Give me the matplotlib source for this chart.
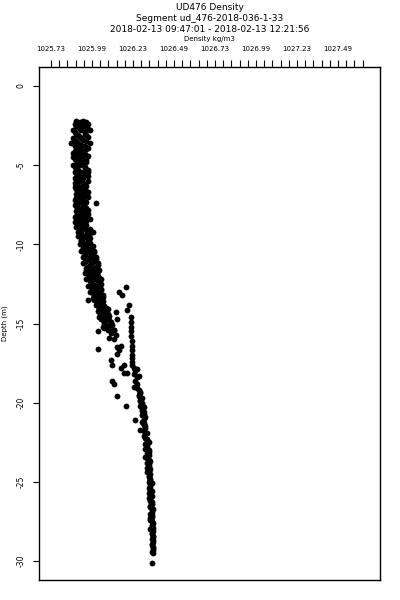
import matplotlib
matplotlib.use("Agg")
import matplotlib.pyplot as plt
import numpy as np

title_lines = ["UD476 Density", "Segment ud_476-2018-036-1-33",
               "2018-02-13 09:47:01 - 2018-02-13 12:21:56"]
x_label = "Density kg/m3"
y_label = "Depth (m)"

# top layer (-2.2 .. -10 m)
depth_top = [-2.2, -2.2, -2.4, -2.4, -2.4, -2.6, -2.6, -2.8, -2.8, -2.8,
             -3.0, -3.0, -3.2, -3.2, -3.4, -3.4, -3.6, -3.6, -3.6, -3.8, -3.8,
             -4.0, -4.0, -4.2, -4.2, -4.4, -4.4, -4.6, -4.6, -4.8, -4.8,
             -5.0, -5.0, -5.2, -5.2, -5.4, -5.4, -5.4, -5.6, -5.6, -5.8, -5.8,
             -6.0, -6.0, -6.2, -6.2, -6.4, -6.4, -6.6, -6.6, -6.8, -6.8,
             -7.0, -7.0, -7.2, -7.2, -7.4, -7.4, -7.4, -7.6, -7.6, -7.8, -7.8,
             -8.0, -8.0, -8.2, -8.2, -8.4, -8.4, -8.6, -8.6, -8.8, -8.8,
             -9.0, -9.0, -9.2, -9.2, -9.2, -9.4, -9.4, -9.6, -9.6, -9.8, -9.8,
             -10.0, -10.0]
dens_top = [1025.89, 1025.93, 1025.88, 1025.91, 1025.96, 1025.90, 1025.95, 1025.87, 1025.92, 1025.97,
            1025.89, 1025.94, 1025.91, 1025.96, 1025.88, 1025.93, 1025.86, 1025.90, 1025.97, 1025.88, 1025.94,
            1025.90, 1025.95, 1025.87, 1025.92, 1025.89, 1025.96, 1025.88, 1025.93, 1025.90, 1025.95,
            1025.87, 1025.91, 1025.89, 1025.94, 1025.88, 1025.92, 1025.96, 1025.90, 1025.94, 1025.88, 1025.93,
            1025.91, 1025.96, 1025.89, 1025.94, 1025.88, 1025.92, 1025.90, 1025.95, 1025.89, 1025.93,
            1025.91, 1025.96, 1025.88, 1025.92, 1025.90, 1025.94, 1026.01, 1025.89, 1025.93, 1025.91, 1025.96,
            1025.90, 1025.94, 1025.89, 1025.95, 1025.91, 1025.97, 1025.88, 1025.93, 1025.90, 1025.95,
            1025.92, 1025.97, 1025.90, 1025.96, 1025.99, 1025.91, 1025.95, 1025.93, 1025.97, 1025.92, 1025.96,
            1025.91, 1025.95]
depth_top2 = [-2.3, -2.3, -2.5, -2.5, -2.7, -2.7, -2.9, -2.9, -3.1, -3.1, -3.3, -3.3,
              -3.5, -3.5, -3.7, -3.7, -3.9, -3.9, -4.1, -4.1, -4.3, -4.3, -4.5, -4.5,
              -4.7, -4.7, -4.9, -4.9, -5.1, -5.1, -5.3, -5.3, -5.5, -5.5, -5.7, -5.7,
              -5.9, -5.9, -6.1, -6.1, -6.3, -6.3, -6.5, -6.5, -6.7, -6.7, -6.9, -6.9,
              -7.1, -7.1, -7.3, -7.3, -7.5, -7.5, -7.7, -7.7, -7.9, -7.9, -8.1, -8.1,
              -8.3, -8.3, -8.5, -8.5, -8.7, -8.7, -8.9, -8.9, -9.1, -9.1, -9.3, -9.3,
              -9.5, -9.5, -9.7, -9.7, -9.9, -9.9]
dens_top2 = [1025.91, 1025.95, 1025.89, 1025.93, 1025.91, 1025.96, 1025.88, 1025.94, 1025.90, 1025.95,
             1025.87, 1025.92, 1025.89, 1025.95, 1025.88, 1025.92, 1025.91, 1025.96, 1025.88, 1025.93,
             1025.90, 1025.94, 1025.87, 1025.92, 1025.91, 1025.95, 1025.89, 1025.93, 1025.88, 1025.94,
             1025.90, 1025.96, 1025.89, 1025.94, 1025.91, 1025.96, 1025.89, 1025.92, 1025.88, 1025.93,
             1025.90, 1025.95, 1025.89, 1025.93, 1025.91, 1025.96, 1025.90, 1025.94, 1025.89, 1025.93,
             1025.91, 1025.95, 1025.88, 1025.93, 1025.90, 1025.95, 1025.89, 1025.93, 1025.91, 1025.96,
             1025.88, 1025.93, 1025.90, 1025.95, 1025.91, 1025.94, 1025.89, 1025.93, 1025.91, 1025.95,
             1025.92, 1025.97, 1025.90, 1025.94, 1025.92, 1025.96, 1025.93, 1025.97]

# transition layer (-10 .. -20 m)
depth_mid = [-10.2, -10.2, -10.4, -10.4, -10.4, -10.6, -10.6, -10.8, -10.8, -10.8,
             -11.0, -11.0, -11.2, -11.2, -11.2, -11.4, -11.4, -11.6, -11.6, -11.6,
             -11.8, -11.8, -12.0, -12.0, -12.2, -12.2, -12.2, -12.4, -12.4, -12.6, -12.6,
             -12.8, -12.8, -13.0, -13.0, -13.2, -13.2, -13.4, -13.4, -13.5, -13.6, -13.6,
             -12.7, -13.0, -13.2,
             -13.8, -13.8, -14.0, -14.0, -14.2, -14.2, -14.4, -14.4, -14.6, -14.6,
             -14.3, -14.7, -14.8, -14.8, -15.0, -15.0, -15.2, -15.2, -15.4, -15.4,
             -15.5, -16.6,
             -13.8, -14.15, -14.6, -14.9, -15.2, -15.5, -15.8, -16.1, -16.4, -16.7, -17.0, -17.2,
             -15.0, -15.3, -15.6, -15.9, -15.4, -15.7, -16.0, -16.5, -16.9, -16.4, -16.7,
             -17.3, -17.6, -17.8, -17.6, -18.1, -18.1, -18.6, -18.8, -19.6, -20.2,
             -17.4, -17.6, -17.8, -18.0, -18.2, -18.4, -18.6, -17.9, -18.3, -18.8]
dens_mid = [1025.93, 1025.98, 1025.92, 1025.96, 1026.00, 1025.94, 1025.99, 1025.93, 1025.97, 1026.01,
            1025.95, 1026.00, 1025.93, 1025.98, 1026.02, 1025.96, 1026.01, 1025.95, 1025.99, 1026.03,
            1025.94, 1025.98, 1025.97, 1026.02, 1025.95, 1026.00, 1026.04, 1025.98, 1026.03, 1025.96, 1026.01,
            1025.99, 1026.04, 1025.97, 1026.02, 1026.00, 1026.05, 1025.99, 1026.03, 1025.96, 1026.02, 1026.05,
            1026.19, 1026.15, 1026.17,
            1026.01, 1026.05, 1026.03, 1026.07, 1026.02, 1026.06, 1026.04, 1026.08, 1026.03, 1026.07,
            1026.13, 1026.14, 1026.05, 1026.09, 1026.06, 1026.10, 1026.05, 1026.09, 1026.08, 1026.12,
            1026.02, 1026.02,
            1026.21, 1026.20, 1026.22, 1026.22, 1026.22, 1026.22, 1026.22, 1026.23, 1026.23, 1026.23, 1026.23, 1026.23,
            1026.10, 1026.09, 1026.10, 1026.09, 1026.12, 1026.13, 1026.12, 1026.14, 1026.14, 1026.16, 1026.15,
            1026.10, 1026.11, 1026.16, 1026.18, 1026.18, 1026.20, 1026.11, 1026.12, 1026.14, 1026.19,
            1026.23, 1026.23, 1026.24, 1026.25, 1026.24, 1026.26, 1026.25, 1026.26, 1026.27, 1026.26]
depth_mid2 = [-10.1, -10.1, -10.3, -10.3, -10.5, -10.5, -10.7, -10.7, -10.9, -10.9,
              -11.1, -11.1, -11.3, -11.3, -11.5, -11.5, -11.7, -11.7, -11.9, -11.9,
              -12.1, -12.1, -12.3, -12.3, -12.5, -12.5, -12.7, -12.7, -12.9, -12.9,
              -13.1, -13.1, -13.3, -13.3, -13.5, -13.7, -13.9, -13.9, -14.1, -14.1,
              -14.3, -14.3, -14.5, -14.5, -14.7, -14.7, -14.9, -14.9, -15.1, -15.1, -15.3]
dens_mid2 = [1025.95, 1025.99, 1025.93, 1025.97, 1025.95, 1026.00, 1025.94, 1025.98, 1025.96, 1026.01,
             1025.94, 1025.99, 1025.97, 1026.02, 1025.95, 1026.00, 1025.97, 1026.02, 1025.96, 1026.00,
             1025.98, 1026.03, 1025.97, 1026.02, 1025.99, 1026.04, 1025.98, 1026.02, 1026.00, 1026.04,
             1025.99, 1026.03, 1026.01, 1026.05, 1026.00, 1026.03, 1026.02, 1026.06, 1026.04, 1026.08,
             1026.03, 1026.07, 1026.05, 1026.09, 1026.04, 1026.08, 1026.06, 1026.10, 1026.07, 1026.11, 1026.06]

# deep layer (-19 .. -30.2 m)
depth_deep = [-19.0, -19.2, -19.4, -19.6, -19.8, -20.0, -20.2, -20.4, -20.6, -20.8,
              -21.0, -21.1, -21.2, -21.4, -21.6, -21.7, -21.8, -22.0,
              -22.2, -22.4, -22.6, -22.8, -23.0, -23.2, -23.4, -23.6, -23.8, -24.0,
              -24.2, -24.4, -24.6, -24.8, -25.0, -25.2, -25.4, -25.6, -25.8, -26.0,
              -26.2, -26.4, -26.6, -26.8, -27.0, -27.2, -27.4, -27.6, -27.8, -28.0,
              -28.2, -28.4, -28.6, -28.8, -29.0, -29.2, -29.4, -29.5, -30.15]
dens_deep = [1026.24, 1026.27, 1026.28, 1026.27, 1026.28, 1026.29, 1026.28, 1026.29, 1026.30, 1026.29,
             1026.30, 1026.25, 1026.29, 1026.30, 1026.31, 1026.28, 1026.30, 1026.31,
             1026.31, 1026.32, 1026.31, 1026.32, 1026.33, 1026.32, 1026.31, 1026.33, 1026.32, 1026.33,
             1026.34, 1026.32, 1026.33, 1026.34, 1026.33, 1026.34, 1026.33, 1026.35, 1026.34, 1026.33,
             1026.34, 1026.35, 1026.34, 1026.35, 1026.34, 1026.35, 1026.34, 1026.36, 1026.35, 1026.34,
             1026.35, 1026.36, 1026.35, 1026.36, 1026.35, 1026.36, 1026.35, 1026.36, 1026.353]
depth_deep2 = [-19.1, -19.3, -19.5, -19.7, -19.9, -20.1, -20.3, -20.5, -20.7, -20.9,
               -21.3, -21.5, -21.9, -22.1, -22.3, -22.5, -22.7, -22.9, -23.1, -23.3,
               -23.5, -23.7, -23.9, -24.1, -24.3, -24.5, -24.7, -24.9, -25.1, -25.3,
               -25.5, -25.7, -25.9, -26.1, -26.3, -26.5, -26.7, -26.9, -27.1, -27.3,
               -27.5, -27.7, -27.9, -28.1, -28.3, -28.5, -28.7, -28.9, -29.1, -29.3]
dens_deep2 = [1026.26, 1026.28, 1026.27, 1026.29, 1026.28, 1026.29, 1026.30, 1026.29, 1026.30, 1026.31,
              1026.30, 1026.31, 1026.32, 1026.30, 1026.32, 1026.33, 1026.32, 1026.31, 1026.33, 1026.33,
              1026.32, 1026.34, 1026.33, 1026.32, 1026.33, 1026.34, 1026.33, 1026.34, 1026.35, 1026.34,
              1026.34, 1026.33, 1026.35, 1026.34, 1026.35, 1026.34, 1026.36, 1026.35, 1026.35, 1026.34,
              1026.35, 1026.35, 1026.36, 1026.36, 1026.35, 1026.36, 1026.36, 1026.35, 1026.36, 1026.36]

x_tick_labels = ["1025.73", "1025.99", "1026.23", "1026.49", "1026.73", "1026.99", "1027.23", "1027.49"]
x_tick_start = 1025.735
x_tick_step = 0.25
y_ticks = [0, -5, -10, -15, -20, -25, -30]

depth = depth_top + depth_top2 + depth_mid + depth_mid2 + depth_deep + depth_deep2
dens = dens_top + dens_top2 + dens_mid + dens_mid2 + dens_deep + dens_deep2

fig = plt.figure(figsize=(4, 6), dpi=100)
ax = fig.add_axes([39/400, 1-580/600, (380-39)/400, (580-67)/600])
ax.plot(dens, depth, linestyle="none", marker="o", markersize=4.2,
        color="black", markeredgewidth=0)

ax.set_xlim(1025.662, 1027.741)
ax.set_ylim(-31.2, 1.2)

ax.xaxis.tick_top()
ax.xaxis.set_label_position("top")
major = [x_tick_start + i * x_tick_step for i in range(len(x_tick_labels))]
ax.set_xticks(major)
ax.set_xticklabels(x_tick_labels, fontsize=5)
minor = [x_tick_start + k * 0.05 for k in range(39)]
ax.set_xticks(minor, minor=True)
ax.tick_params(axis="x", which="both", direction="out", length=5, width=0.8,
               top=True, bottom=False, pad=6)
ax.set_yticks(y_ticks)
ax.set_yticklabels([str(v) for v in y_ticks], fontsize=5.5, rotation=90, va="center")
ax.tick_params(axis="y", which="both", direction="out", length=4.5, width=0.8, pad=5)
for s in ax.spines.values():
    s.set_linewidth(1.0)

ax.set_ylabel(y_label, fontsize=5)
ax.yaxis.set_label_coords(-0.09, 0.5)
fig.text(209.5/400, 1-39/600, x_label, fontsize=5, ha="center", va="center")
for txt, yy in zip(title_lines, [8, 18.5, 29.5]):
    fig.text(209.5/400, 1-yy/600, txt, fontsize=6.5, ha="center", va="center")

fig.savefig("out.png", dpi=100)
